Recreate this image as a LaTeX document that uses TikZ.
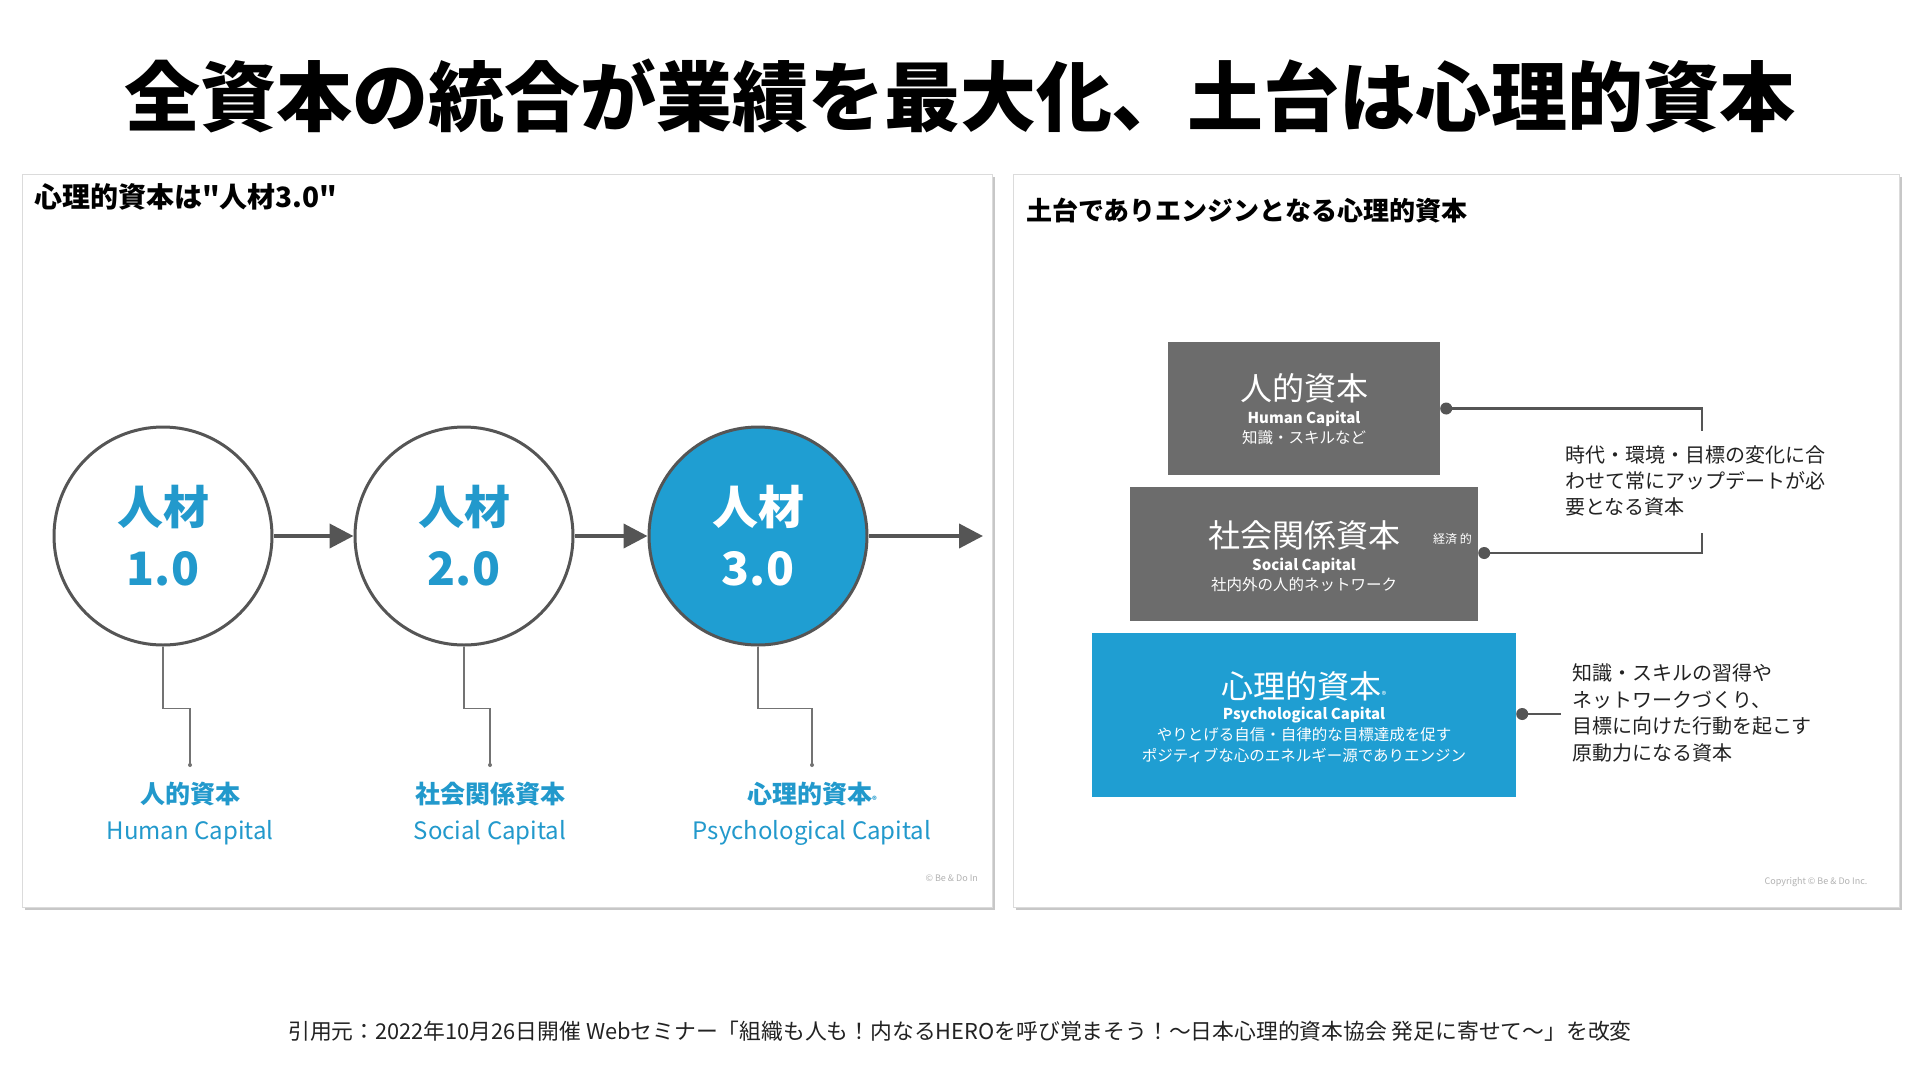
\documentclass[tikz,border=0pt]{standalone}
\usepackage{fontspec}
\setmainfont{Noto Sans CJK JP}
\newfontfamily\blackjp{Noto Sans CJK JP Black}
\newfontfamily\rawjp{Noto Sans CJK JP}
\usetikzlibrary{calc,arrows.meta}
\definecolor{pblue}{HTML}{1F9ED2}
\definecolor{tblue}{HTML}{2299CC}
\definecolor{boxgray}{HTML}{6C6C6C}
\definecolor{lgray}{HTML}{555555}
\definecolor{txt}{HTML}{222222}
\newcommand{\fsz}[2]{\fontsize{#1}{#2}\selectfont}
\tikzset{
  panel/.style={draw=black!14, fill=white, line width=1, inner sep=0},
  shadowbox/.style={fill=black!22, draw=none, inner sep=0},
  circ/.style={circle, draw=lgray, line width=3, minimum size=218, inner sep=0, fill=white,
     text=tblue, font=\bfseries\fsz{46}{61}, align=center},
  circb/.style={circ, fill=pblue, text=white},
  arr/.style={draw=lgray, line width=4, -{Triangle[length=24, width=24]}},
  lead/.style={draw=black!55, line width=1.3},
  labj/.style={text=tblue, font=\bfseries\fsz{25}{30}},
  labe/.style={text=tblue, font=\fsz{24}{29}},
  gbox/.style={fill=boxgray, draw=none, inner sep=0},
  bbox/.style={fill=pblue, draw=none, inner sep=0},
  bigt/.style={text=white, font=\fsz{32}{38}},
  engt/.style={text=white, font=\bfseries\fsz{15}{18}},
  smt/.style={text=white, font=\fsz{15.5}{19}},
  conn/.style={draw=lgray, line width=2.5},
  side/.style={text=txt, anchor=west, align=left, inner sep=0},
  copyr/.style={text=black!30, font=\fsz{9}{11}},
}
\begin{document}
\begin{tikzpicture}[x=1pt, y=-1pt]
\useasboundingbox (0,0) rectangle (1920,1080);
\fill[white] (0,0) rectangle (1920,1080);

% title
\node[text=black, font=\blackjp\fsz{76}{82}] (title) at (960,96) {全資本の統合が業績を最大化、土台は心理的資本};

% ===== left panel =====
\node[shadowbox, minimum width=970, minimum height=733] (lps) at (510,543) {};
\node[panel, minimum width=970, minimum height=733] (lp) at (507,540.5) {};
\node[anchor=west, inner sep=0, font=\rawjp\bfseries\fsz{28}{33}] (lh) at (34,197) {心理的資本は"人材3.0"};

\node[circ] (c1) at (163,536) {人材\\1.0};
\node[circ] (c2) at (464,536) {人材\\2.0};
\node[circb] (c3) at (758,536) {人材\\3.0};
\coordinate (a3end) at (983,536);
\draw[arr] (c1) -- (c2);
\draw[arr] (c2) -- (c3);
\draw[arr] (c3) -- (a3end);

\coordinate (l1) at (190,765);
\coordinate (l2) at (490,765);
\coordinate (l3) at (812,765);
\draw[lead] (c1.south) -- ++(0,62) -| (l1);
\draw[lead] (c2.south) -- ++(0,62) -| (l2);
\draw[lead] (c3.south) -- ++(0,62) -| (l3);
\fill[black!55] (l1) circle (2pt);
\fill[black!55] (l2) circle (2pt);
\fill[black!55] (l3) circle (2pt);

\node[labj] (n1) at (190,794) {人的資本};
\node[labe] (e1) at (190,833) {Human Capital};
\node[labj] (n2) at (490,794) {社会関係資本};
\node[labe] (e2) at (490,833) {Social Capital};
\node[labj] (n3) at (812,794) {心理的資本{\fsz{9}{10}®}};
\node[labe] (e3) at (812,833) {Psychological Capital};
\node[copyr, anchor=west] (cpl) at (922,878) {© Be \& Do In};

% ===== right panel =====
\node[shadowbox, minimum width=886, minimum height=733] (rps) at (1459,543) {};
\node[panel, minimum width=886, minimum height=733] (rp) at (1456,540.5) {};
\node[anchor=west, inner sep=0, font=\bfseries\fsz{26}{31}] (rh) at (1026,211) {土台でありエンジンとなる心理的資本};

\node[gbox, minimum width=272, minimum height=133] (b1) at (1304,408.5) {};
\node[gbox, minimum width=348, minimum height=134] (b2) at (1304,554) {};
\node[bbox, minimum width=424, minimum height=164] (b3) at (1304,715) {};

\node[bigt] (b1t) at (1304,388) {人的資本};
\node[engt] (b1e) at (1304,419) {Human Capital};
\node[smt] (b1s) at (1304,438) {知識・スキルなど};

\node[bigt] (b2t) at (1304,535) {社会関係資本};
\node[engt] (b2e) at (1304,566) {Social Capital};
\node[smt] (b2s) at (1304,585) {社内外の人的ネットワーク};
\node[text=white, anchor=west, inner sep=0, font=\fsz{12}{14}] (b2x) at (1433,539) {経済 的};

\node[bigt] (b3t) at (1304,686) {心理的資本{\fsz{9}{10}®}};
\node[engt] (b3e) at (1304,715) {Psychological Capital};
\node[smt] (b3s1) at (1304,735) {やりとげる自信・自律的な目標達成を促す};
\node[smt] (b3s2) at (1304,755) {ポジティブな心のエネルギー源でありエンジン};

% connectors
\coordinate (d1) at ($(b1.east)+(6,0)$);
\coordinate (d2) at ($(b2.east)+(6,-1)$);
\coordinate (d3) at ($(b3.east)+(6,-1)$);
\coordinate (br1) at (1702,431);
\coordinate (br2) at (1702,533);
\coordinate (c3e) at (1561,714);
\draw[conn] (d1) -| (br1);
\draw[conn] (br2) |- (d2);
\draw[conn] (d3) -- (c3e);
\fill[lgray] (d1) circle (6pt);
\fill[lgray] (d2) circle (6pt);
\fill[lgray] (d3) circle (6pt);

\node[side, font=\fsz{20}{26}] (t1) at (1565,481) {時代・環境・目標の変化に合\\わせて常にアップデートが必\\要となる資本};
\node[side, font=\fsz{20}{26.7}] (t2) at (1572,713) {知識・スキルの習得や\\ネットワークづくり、\\目標に向けた行動を起こす\\原動力になる資本};

\node[copyr] (cpr) at (1816,882) {Copyright © Be \& Do Inc.};

% footer
\node[text=txt, font=\fsz{21.8}{26}] (foot) at (960,1031) {引用元：2022年10月26日開催 Webセミナー「組織も人も！内なるHEROを呼び覚まそう！〜日本心理的資本協会 発足に寄せて〜」を改変};
\end{tikzpicture}
\end{document}
